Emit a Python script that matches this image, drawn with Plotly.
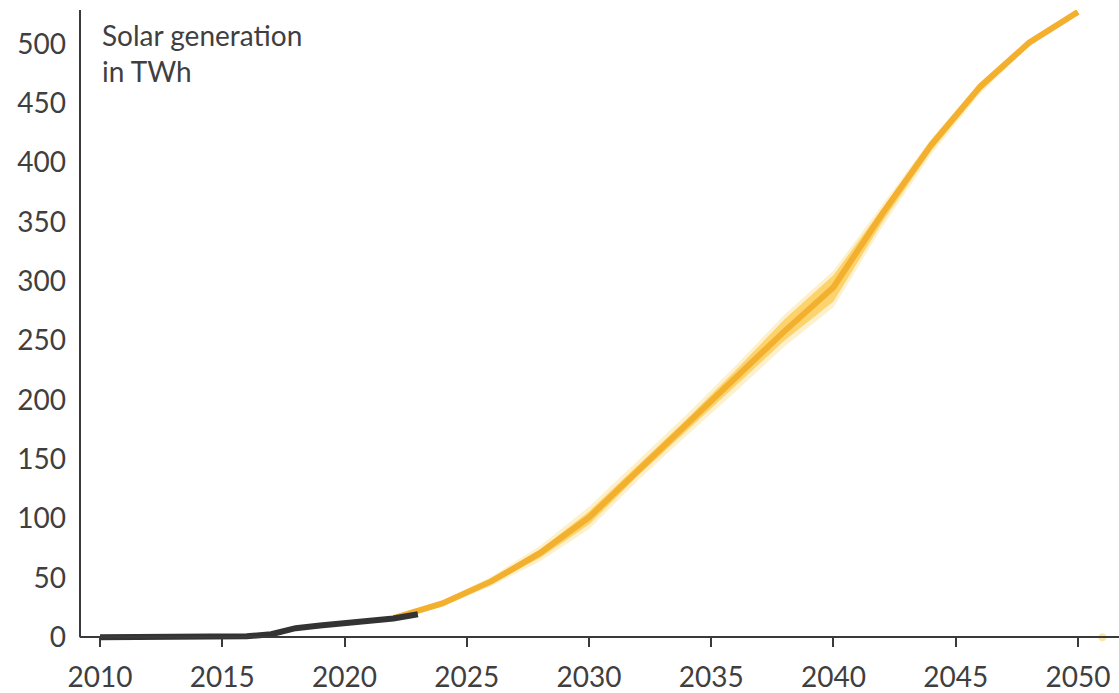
import plotly.graph_objects as go

# Historical solar generation (TWh)
hist_years = list(range(2010, 2024))
hist_values = [0, 0, 0, 0, 0, 0, 0.8, 2.5, 7.6, 9.8, 11.8, 14.2, 15.7, 19.4]

# Projection (TWh), central path and scenario envelopes
proj_years = [2022, 2024, 2026, 2028, 2030, 2032, 2034, 2036, 2038, 2040,
              2042, 2044, 2046, 2048, 2050]
proj_mid = [16, 28.5, 47, 71, 101, 140, 179, 218, 258, 295,
            357, 415, 464, 501, 527]
inner_lo = [16, 27, 45, 67, 95, 136, 174, 212, 250, 283,
            350, 410, 460, 499, 527]
inner_hi = [16, 30, 49, 74, 106, 145, 184, 225, 268, 305,
            362, 418, 466, 502, 527]
outer_lo = [15, 26, 43, 64, 91, 132, 170, 207, 245, 278,
            346, 407, 458, 498, 527]
outer_hi = [17, 31, 51, 77, 110, 149, 188, 229, 272, 309,
            365, 420, 468, 503, 527]

stray_year = [2051]
stray_value = [0]

y_ticks = [0, 50, 100, 150, 200, 250, 300, 350, 400, 450, 500]
x_ticks = [2010, 2015, 2020, 2025, 2030, 2035, 2040, 2045, 2050]

Y_MIN, Y_MAX = -3.2, 528.6
TEXT = "#3f3f3f"
AXIS = "#3a3a3a"
FONT = "Lato"
SIZE = 28

fig = go.Figure()


def band(lo, hi, color):
    fig.add_trace(go.Scatter(x=proj_years, y=lo, mode="lines",
                             line=dict(width=0), hoverinfo="skip",
                             showlegend=False))
    fig.add_trace(go.Scatter(x=proj_years, y=hi, mode="lines",
                             line=dict(width=0), fill="tonexty",
                             fillcolor=color, hoverinfo="skip",
                             showlegend=False))


band(outer_lo, outer_hi, "#fcf1cc")
band(inner_lo, inner_hi, "#fdd36e")

fig.add_trace(go.Scatter(x=proj_years, y=proj_mid, mode="lines",
                         line=dict(color="#f3b02f", width=6),
                         showlegend=False))

fig.add_trace(go.Scatter(x=hist_years, y=hist_values, mode="lines",
                         line=dict(color="#333333", width=6),
                         showlegend=False))

fig.add_trace(go.Scatter(x=stray_year, y=stray_value, mode="markers",
                         marker=dict(color="rgba(253,208,100,0.55)", size=8),
                         cliponaxis=False, showlegend=False))

# vertical axis line from zero to the top of the plot
fig.add_shape(type="line", xref="paper", yref="y", x0=0, x1=0,
              y0=0, y1=Y_MAX, line=dict(color=AXIS, width=2), layer="above")

fig.add_annotation(text="Solar generation<br>in TWh", xref="x", yref="paper",
                   x=2009.98, y=0.991, xanchor="left", yanchor="top",
                   align="left", showarrow=False,
                   font=dict(family=FONT, size=SIZE, color=TEXT))

zero_pos = (0 - Y_MIN) / (Y_MAX - Y_MIN)

fig.update_layout(
    width=1119, height=693,
    margin=dict(l=80, r=0, t=10, b=52),
    paper_bgcolor="white", plot_bgcolor="white",
    font=dict(family=FONT, size=SIZE, color=TEXT),
    xaxis=dict(range=[2009.18, 2051.68], tickvals=x_ticks,
               showgrid=False, zeroline=False, automargin=False,
               showline=True, linecolor=AXIS, linewidth=2,
               ticks="outside", ticklen=9, tickwidth=2, tickcolor=AXIS,
               anchor="free", position=zero_pos,
               ticklabelstandoff=6,
               tickfont=dict(family=FONT, size=SIZE, color=TEXT)),
    yaxis=dict(range=[Y_MIN, Y_MAX], tickvals=y_ticks,
               showgrid=False, zeroline=False, showline=False,
               automargin=False,
               ticks="", ticklabelstandoff=13,
               tickfont=dict(family=FONT, size=SIZE, color=TEXT)),
)

fig.write_html("out.html")
